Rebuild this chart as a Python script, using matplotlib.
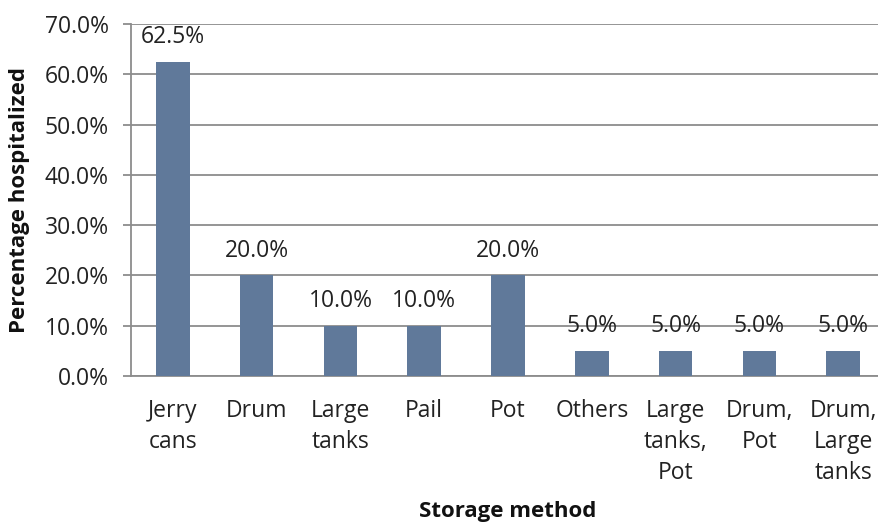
import matplotlib.pyplot as plt
import matplotlib.ticker as ticker

plt.rcParams['font.family'] = ['Open Sans', 'DejaVu Sans']

# 数据
methods = ['Jerry\ncans', 'Drum', 'Large\ntanks', 'Pail', 'Pot', 'Others',
           'Large\ntanks,\nPot', 'Drum,\nPot', 'Drum,\nLarge\ntanks']
pct = [62.5, 20.0, 10.0, 10.0, 20.0, 5.0, 5.0, 5.0, 5.0]

fs = 16.5
fig = plt.figure(figsize=(8.79, 5.25), dpi=100)
ax = fig.add_axes([131 / 879, 1 - 376 / 525, 754 / 879, 352 / 525])

x = range(len(methods))
ax.bar(x, pct, width=0.4, color='#60799a', zorder=3)
for i, v in enumerate(pct):
    ax.annotate('%.1f%%' % v, (i, v), xytext=(0, 9), textcoords='offset points',
                ha='center', va='bottom', fontsize=fs, color='#222222')

ax.set_xlim(-0.5, len(methods) - 0.5)
ax.set_ylim(0, 70)
ax.yaxis.set_major_locator(ticker.MultipleLocator(10))
ax.yaxis.set_major_formatter(ticker.FuncFormatter(lambda v, p: '%.1f%%' % v))
ax.grid(axis='y', color='#8c8c8c', linewidth=1.3, zorder=0)

ax.set_xticks(list(x))
ax.set_xticklabels(methods, fontsize=fs, linespacing=1.4, color='#222222')
ax.tick_params(axis='x', length=0, pad=16.5)
ax.tick_params(axis='y', length=6, color='#8c8c8c', width=1.3, labelsize=fs,
               labelcolor='#222222', pad=10)

for s in ['top', 'right']:
    ax.spines[s].set_visible(False)
for s in ['left', 'bottom']:
    ax.spines[s].set_color('#8c8c8c')
    ax.spines[s].set_linewidth(1.3)

fig.text(508 / 879, 1 - 512 / 525, 'Storage method', ha='center',
         va='center', fontsize=fs - 0.5, fontweight='bold', color='#111111')
fig.text(20 / 879, 1 - 200 / 525, 'Percentage hospitalized', ha='center',
         va='center', rotation=90, fontsize=fs - 0.5, fontweight='bold', color='#111111')

plt.savefig('out.png', dpi=100)
